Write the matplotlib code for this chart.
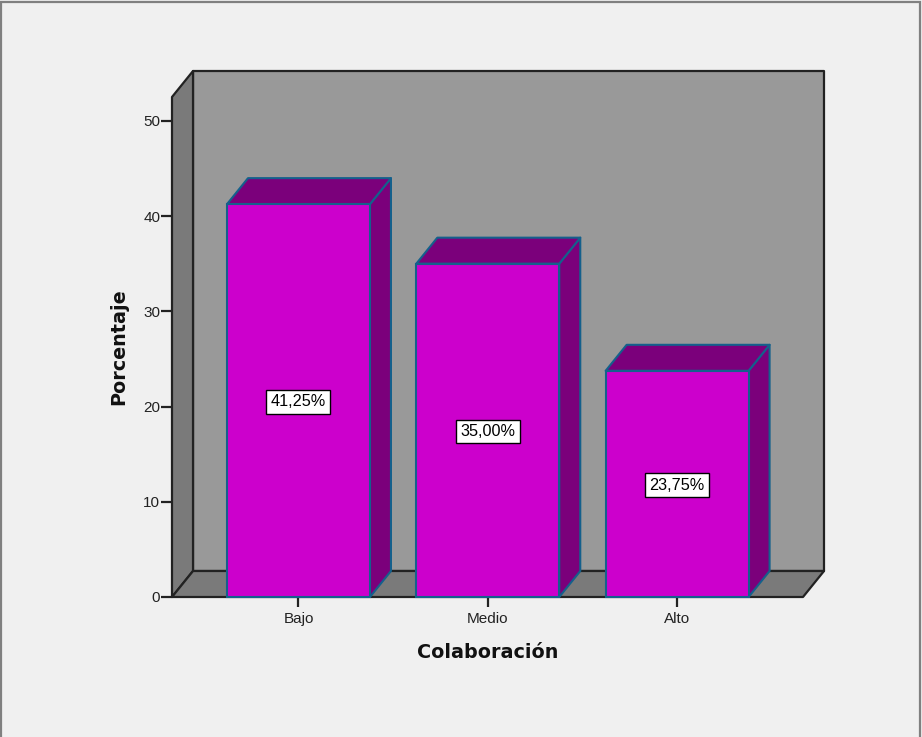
import matplotlib
matplotlib.use("Agg")
import matplotlib.pyplot as plt
from matplotlib.patches import Polygon, Rectangle

categorias = ["Bajo", "Medio", "Alto"]
porcentajes = [41.25, 35.00, 23.75]
etiquetas = ["41,25%", "35,00%", "23,75%"]
ticks_y = [0, 10, 20, 30, 40, 50]

ANCHO_BARRA = 0.755
DX = 0.111   # profundidad 3D en unidades de categoria
DY = 2.73    # profundidad 3D en unidades de porcentaje
X_MIN, X_MAX = -0.668, 2.665
Y_MAX = 52.5

plt.rcParams['font.family'] = ['Liberation Sans', 'DejaVu Sans']

fig = plt.figure(figsize=(9.22, 7.37), dpi=100, facecolor='#f0f0f0')
W, H = 922, 737
ax = fig.add_axes([172 / W, 1 - 597 / H, (803 - 172) / W, (597 - 97) / H])
ax.set_xlim(X_MIN, X_MAX)
ax.set_ylim(0, Y_MAX)
ax.patch.set_visible(False)

# marco exterior de la ventana
fig.add_artist(Rectangle((1 / W, -0.01), 919 / W, 1.01 - 1.5 / H, transform=fig.transFigure,
                         facecolor='none', edgecolor='#808080', linewidth=1.6))

NEGRO = '#222222'


def cara(puntos, color, borde=NEGRO, lw=1.6, z=1):
    ax.add_patch(Polygon(puntos, closed=True, facecolor=color, edgecolor=borde,
                         linewidth=lw, zorder=z, clip_on=False, joinstyle='round'))


# paredes y piso
cara([(X_MIN + DX, DY), (X_MAX + DX, DY), (X_MAX + DX, Y_MAX + DY), (X_MIN + DX, Y_MAX + DY)], '#999999')
cara([(X_MIN, 0), (X_MIN + DX, DY), (X_MIN + DX, Y_MAX + DY), (X_MIN, Y_MAX)], '#7a7a7a')
cara([(X_MIN, 0), (X_MAX, 0), (X_MAX + DX, DY), (X_MIN + DX, DY)], '#7a7a7a')

# barras
for i, valor in enumerate(porcentajes):
    x0 = i - ANCHO_BARRA / 2
    x1 = i + ANCHO_BARRA / 2
    cara([(x1, 0), (x1 + DX, DY), (x1 + DX, valor + DY), (x1, valor)], '#7b007b', '#14608c', 1.5, 3)
    cara([(x0, valor), (x1, valor), (x1 + DX, valor + DY), (x0 + DX, valor + DY)], '#7b007b', '#14608c', 1.5, 3)
    ax.bar(i, valor, width=ANCHO_BARRA, color='#cc00cc', edgecolor='#14608c', linewidth=1.5, zorder=4, clip_on=False)
    ax.annotate(etiquetas[i], (i, valor / 2), xytext=(0, -0.8), textcoords='offset points',
                ha='center', va='center', fontsize=11.7, color='black', zorder=5,
                bbox=dict(boxstyle='square,pad=0.27', facecolor='white', edgecolor='black', linewidth=1))

for lado in ax.spines.values():
    lado.set_visible(False)

ax.set_yticks(ticks_y)
ax.set_xticks(range(len(categorias)))
ax.set_xticklabels(categorias)
ax.tick_params(axis='y', length=8, width=1.6, color=NEGRO, labelsize=11, labelcolor='#222222', pad=0.5)
ax.tick_params(axis='x', length=7, width=1.6, color=NEGRO, labelsize=11, labelcolor='#222222', pad=3.5)

fig.text(488 / W, 1 - 652 / H, "Colaboración", ha='center', va='center', fontsize=13.8,
         fontweight='bold', color='#111111', fontfamily='DejaVu Sans')
fig.text(119 / W, 1 - 347 / H, "Porcentaje", rotation=90, ha='center', va='center', fontsize=13.8,
         fontweight='bold', color='#111111', fontfamily='DejaVu Sans')

fig.savefig("out.png", dpi=100, facecolor=fig.get_facecolor())
